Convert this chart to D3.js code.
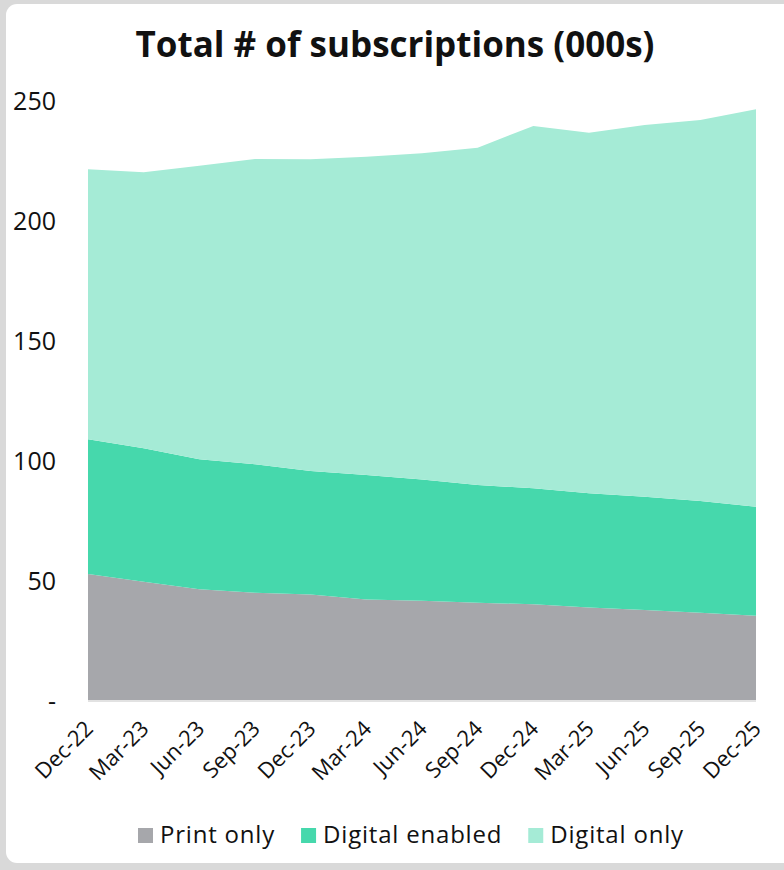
<!DOCTYPE html>
<html>
<head>
  <meta charset="utf-8">
  <title>Total # of subscriptions</title>
  <script src="https://d3js.org/d3.v7.min.js"></script>
  <style>
    html, body { margin: 0; padding: 0; background: #d9d9d9; }
    #chart text { font-family: "Open Sans", "Noto Sans", sans-serif; fill: #111; }
  </style>
</head>
<body>
  <div id="chart"></div>

  <script>
    "use strict"

    // trimestres
    var periodos = ["Dec-22", "Mar-23", "Jun-23", "Sep-23", "Dec-23", "Mar-24", "Jun-24",
                    "Sep-24", "Dec-24", "Mar-25", "Jun-25", "Sep-25", "Dec-25"];

    // valores em milhares
    var printOnly      = [52.5, 49.3, 46.1, 44.7, 44.0, 41.9, 41.4, 40.5, 39.9, 38.5, 37.5, 36.4, 35.1];
    var digitalEnabled = [56.1, 55.6, 54.2, 53.5, 51.4, 51.9, 50.5, 49.1, 48.3, 47.6, 47.2, 46.5, 45.4];
    var digitalOnly    = [112.5, 115.0, 122.3, 127.2, 129.9, 132.6, 135.9, 140.5, 151.0, 150.3, 154.9, 158.8, 165.6];

    var series = ["Print only", "Digital enabled", "Digital only"];
    var cores = ["#a6a7ab", "#46d8ac", "#a5ebd6"];
    var yTicks = [0, 50, 100, 150, 200, 250];

    var larguraSVG = 784, alturaSVG = 870;
    var margin = {top: 100, right: 28, bottom: 170, left: 88};
    var larguraVis = larguraSVG - margin.left - margin.right,
        alturaVis = alturaSVG - margin.top - margin.bottom;

    var tabela = periodos.map(function(p, i) {
      return {periodo: p, "Print only": printOnly[i], "Digital enabled": digitalEnabled[i], "Digital only": digitalOnly[i]};
    });

    var pilha = d3.stack().keys(series)(tabela);

    var x = d3.scalePoint().domain(periodos).range([0, larguraVis]);
    var y = d3.scaleLinear().domain([0, 250]).range([alturaVis, 0]);

    var svg = d3.select("#chart").append("svg")
      .attr("width", larguraSVG)
      .attr("height", alturaSVG);

    // cartao branco
    svg.append("rect")
      .attr("x", 6).attr("y", 4)
      .attr("width", 790).attr("height", 859)
      .attr("rx", 11).attr("ry", 11)
      .attr("fill", "#fff");

    svg.append("text")
      .attr("x", 395).attr("y", 57)
      .attr("text-anchor", "middle")
      .style("font-size", "35px")
      .style("font-weight", "700")
      .text("Total # of subscriptions (000s)");

    var g = svg.append("g")
      .attr("transform", "translate(" + margin.left + "," + margin.top + ")");

    var area = d3.area()
      .x(function(d) { return x(d.data.periodo); })
      .y0(function(d) { return y(d[0]); })
      .y1(function(d) { return y(d[1]); });

    g.selectAll("path.camada")
      .data(pilha)
      .enter()
      .append("path")
      .attr("class", "camada")
      .attr("fill", function(d, i) { return cores[i]; })
      .attr("d", area);

    // linha de base
    g.append("line")
      .attr("x1", 0).attr("x2", larguraVis)
      .attr("y1", y(0) + 1).attr("y2", y(0) + 1)
      .attr("stroke", "#d9d9d9")
      .attr("stroke-width", 1.5);

    // eixo y
    var eixoY = g.append("g")
      .attr("transform", "translate(-32,0)")
      .call(d3.axisLeft(y).tickValues(yTicks).tickSize(0)
        .tickFormat(function(d) { return d === 0 ? "-" : d; }));
    eixoY.select(".domain").remove();
    eixoY.selectAll("text")
      .attr("x", 0)
      .attr("dy", "0.36em")
      .style("font-size", "25px");

    // eixo x
    var eixoX = g.append("g")
      .attr("transform", "translate(0," + alturaVis + ")")
      .call(d3.axisBottom(x).tickSize(0));
    eixoX.select(".domain").remove();
    eixoX.selectAll("text")
      .attr("x", 0).attr("y", 0)
      .attr("dy", 0)
      .attr("text-anchor", "end")
      .attr("transform", "translate(6,30) rotate(-45)")
      .style("font-size", "22px");

    // legenda, itens em sequencia
    var legenda = svg.append("g");
    var posX = 138;
    series.forEach(function(s, i) {
      var item = legenda.append("g").attr("transform", "translate(" + posX + ",828)");
      item.append("rect")
        .attr("width", 15).attr("height", 15)
        .attr("fill", cores[i]);
      var t = item.append("text")
        .attr("x", 22).attr("y", 15)
        .style("font-size", "24px")
        .style("letter-spacing", "0.8px")
        .text(s);
      posX += 22 + t.node().getComputedTextLength() + 26;
    });
  </script>
</body>
</html>
